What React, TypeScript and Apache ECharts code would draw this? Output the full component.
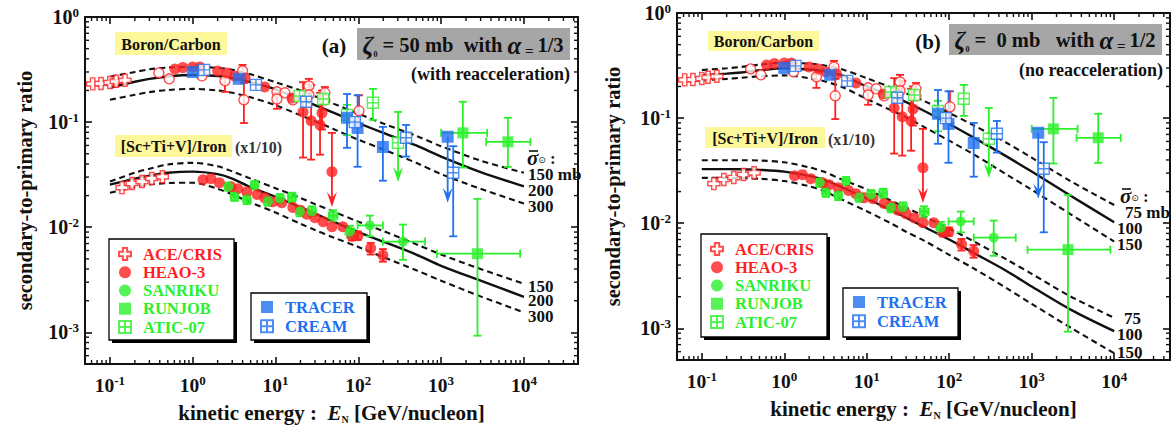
import React, { useEffect, useRef } from 'react';
import * as echarts from 'echarts';

const FONT = '"Liberation Serif", "Times New Roman", Times, serif';
const RED = '#ff1f1f';
const GREEN = '#2cf02c';
const BLUE = '#2070f0';
const INK = '#111111';

// axis ranges and tick decorations
const X_MIN = 0.05;
const X_MAX_A = 45000;
const X_MAX_B = 47500;
const Y_MIN = 5e-4;
const Y_MAX = 1;
const X_DECADES = [0.01, 0.1, 1, 10, 100, 1000, 10000];
const Y_DECADES = [0.0001, 0.001, 0.01, 0.1];
const MINOR_STEPS = [2, 3, 4, 5, 6, 7, 8, 9];

// model curves (kinetic energy grid, GeV/nucleon)
const E_GRID = [0.1, 0.2, 0.3, 0.5, 1, 2, 3, 5, 10, 20, 30, 50, 100, 200, 500, 1000, 3000, 10000];
// panel (a): zeta0 = 50 mb, alpha = 1/3
const A_BC_150 = [0.27, 0.3, 0.318, 0.33, 0.335, 0.328, 0.315, 0.285, 0.24, 0.2, 0.176, 0.15, 0.12, 0.097, 0.074, 0.059, 0.043, 0.033];
const A_BC_200 = [0.212, 0.242, 0.258, 0.272, 0.281, 0.275, 0.262, 0.24, 0.205, 0.165, 0.145, 0.123, 0.098, 0.079, 0.06, 0.047, 0.0335, 0.0245];
const A_BC_300 = [0.163, 0.182, 0.193, 0.202, 0.207, 0.2, 0.19, 0.172, 0.145, 0.116, 0.102, 0.086, 0.068, 0.055, 0.041, 0.032, 0.0232, 0.0168];
const A_FE_150 = [0.0272, 0.033, 0.036, 0.0395, 0.041, 0.038, 0.034, 0.029, 0.0235, 0.019, 0.0166, 0.0141, 0.0113, 0.0092, 0.0069, 0.0055, 0.004, 0.0029];
const A_FE_200 = [0.0254, 0.029, 0.031, 0.033, 0.0338, 0.032, 0.029, 0.024, 0.0195, 0.0155, 0.0135, 0.0113, 0.009, 0.0073, 0.0055, 0.0043, 0.0031, 0.00218];
const A_FE_300 = [0.0213, 0.024, 0.0255, 0.0263, 0.0265, 0.0232, 0.0205, 0.0172, 0.0138, 0.0108, 0.0094, 0.008, 0.0065, 0.0052, 0.0039, 0.0031, 0.0022, 0.00155];
// panel (b): zeta0 = 0 mb, alpha = 1/2
const B_BC_75 = [0.287, 0.298, 0.307, 0.322, 0.337, 0.33, 0.318, 0.292, 0.24, 0.195, 0.172, 0.145, 0.112, 0.085, 0.058, 0.042, 0.025, 0.0149];
const B_BC_100 = [0.256, 0.265, 0.272, 0.285, 0.298, 0.29, 0.28, 0.255, 0.2, 0.163, 0.142, 0.117, 0.088, 0.065, 0.043, 0.031, 0.0182, 0.0102];
const B_BC_150 = [0.23, 0.236, 0.242, 0.25, 0.255, 0.24, 0.225, 0.198, 0.152, 0.118, 0.102, 0.082, 0.061, 0.045, 0.029, 0.0208, 0.0121, 0.0067];
const B_FE_75 = [0.0398, 0.0398, 0.0398, 0.0395, 0.038, 0.034, 0.031, 0.026, 0.021, 0.0163, 0.0141, 0.0116, 0.0089, 0.0067, 0.0045, 0.0033, 0.002, 0.00126];
const B_FE_100 = [0.0327, 0.0327, 0.0326, 0.0322, 0.031, 0.0282, 0.026, 0.022, 0.0172, 0.0132, 0.0113, 0.0092, 0.007, 0.0052, 0.0035, 0.0025, 0.0015, 0.00094];
const B_FE_150 = [0.027, 0.027, 0.0269, 0.0265, 0.0252, 0.0225, 0.0203, 0.0168, 0.013, 0.0099, 0.0083, 0.0068, 0.005, 0.0037, 0.0024, 0.00171, 0.00101, 0.00058];

// measurements: [E, ratio, yLow, yHigh, xLow, xHigh] (missing = no bar)
const ACE_BC = [[0.062, 0.231], [0.078, 0.233], [0.1, 0.238], [0.119, 0.245], [0.152, 0.25]];
const ACE_FE = [[0.14, 0.0238], [0.185, 0.0261], [0.244, 0.0272], [0.32, 0.0291], [0.43, 0.0302]];
const HEAO_BC = [
  [0.61, 0.32], [0.76, 0.33], [1.0, 0.335], [1.22, 0.335], [2.0, 0.307], [2.6, 0.294], [3.2, 0.275], [4.3, 0.263],
  [7.4, 0.216], [15.8, 0.17], [21.5, 0.125, 0.046, 0.24], [26.9, 0.103, 0.044, 0.226], [34.5, 0.094, 0.049, 0.19],
  [36.4, 0.122, 0.085, 0.2], [48, 0.0337],
];
const HEAO_FE = [
  [1.33, 0.0283], [1.66, 0.029], [2.1, 0.0265], [2.9, 0.0243], [3.5, 0.0232], [4.5, 0.0218], [6.0, 0.0205], [7.4, 0.0191],
  [9.3, 0.0175], [11.9, 0.0171], [16.2, 0.0154], [20, 0.0145], [24, 0.0133], [30, 0.0123], [37.6, 0.0113], [48, 0.0101],
  [65, 0.0101], [84, 0.0082, 0.0075, 0.009], [99, 0.0083, 0.0076, 0.0091], [141, 0.0063, 0.0055, 0.0071], [198, 0.0054, 0.0047, 0.0062],
];
const OTHER_BC = [
  [0.39, 0.294], [0.52, 0.258], [1.29, 0.275], [2.45, 0.247, 0.194, 0.26], [4.0, 0.307, 0.26, 0.35], [4.15, 0.163, 0.098, 0.236],
  [10.4, 0.194], [13, 0.19], [10.4, 0.166, 0.134, 0.19], [16.2, 0.163], [25.3, 0.221, 0.19, 0.258], [25.3, 0.182],
  [39.5, 0.19, 0.165, 0.216], [39.5, 0.163], [102, 0.128, 0.09, 0.18],
];
const SANRIKU_FE = [
  [2.7, 0.0244, 0.0222, 0.0266, 2.45, 2.95], [3.2, 0.0196, 0.0178, 0.0215, 2.9, 3.5], [4.5, 0.0184, 0.0166, 0.0203, 4.1, 4.95],
  [5.6, 0.0252, 0.023, 0.0275, 5.1, 6.1], [8.1, 0.0176, 0.016, 0.0193, 7.3, 9.0], [11.3, 0.0188, 0.017, 0.0207, 10.2, 12.5],
  [15.8, 0.0193, 0.0174, 0.0213, 14.2, 17.5], [19.7, 0.0141, 0.0127, 0.0156, 17.7, 21.9], [27.5, 0.0142, 0.0127, 0.0158, 24.7, 30.5],
  [49.5, 0.0129, 0.0114, 0.0145, 44, 56], [79, 0.0091, 0.008, 0.0103, 70, 89], [138, 0.0104, 0.0082, 0.0129, 98, 198],
  [346, 0.0073, 0.0049, 0.0106, 198, 640],
];
const RUNJOB_BC = [[1830, 0.079, 0.037, 0.156, 1000, 3600], [6400, 0.065, 0.0375, 0.11, 3500, 12000]];
const RUNJOB_FE = [[2750, 0.0056, 0.00093, 0.0186, 890, 9000]];
const ATIC_BC = [[19.5, 0.177], [37.6, 0.166, 0.15, 0.185], [73, 0.117, 0.075, 0.146], [150, 0.153, 0.105, 0.207], [302, 0.0636]];
const TRACER_BC = [[1.0, 0.3], [3.6, 0.258], [73, 0.11, 0.057, 0.185], [98, 0.088, 0.0376, 0.18], [198, 0.058, 0.0277, 0.09], [1200, 0.0726]];
const CREAM_BC = [[1.37, 0.314], [5.8, 0.226], [23.5, 0.156], [91, 0.1], [378, 0.071, 0.047, 0.094], [1400, 0.033, 0.0082, 0.059]];
// upper limits: [E, ratio, barTop, arrowTip]
const HEAO_LIMIT = [[48, 0.0337, 0.079, 0.0156]];
const ATIC_LIMIT = [[302, 0.0636, 0.125, 0.027]];
const TRACER_LIMIT = [[1200, 0.0726, 0.0726, 0.0171]];

const CROSS = 'path://M3.2,0H6.8V3.2H10V6.8H6.8V10H3.2V6.8H0V3.2H3.2Z';
const BOXCROSS = 'path://M0,0H10V10H0Z M5,0V10 M0,5H10';
const SQUARE = 'path://M0,0H10V10H0Z';

const POW_RICH_Y = {
  b: { fontFamily: FONT, fontWeight: 'bold', fontSize: 20, lineHeight: 22, color: INK },
  s: { fontFamily: FONT, fontWeight: 'bold', fontSize: 13, lineHeight: 12, verticalAlign: 'top', color: INK },
};
const POW_RICH_X = {
  b: { fontFamily: FONT, fontWeight: 'bold', fontSize: 19.5, lineHeight: 22, color: INK },
  s: { fontFamily: FONT, fontWeight: 'bold', fontSize: 13, lineHeight: 12, verticalAlign: 'top', color: INK },
};
const powFmt = (v: number) => {
  const l = Math.log10(v);
  const n = Math.round(l);
  if (Math.abs(l - n) > 1e-6) return '';
  return `{b|10}{s|${n}}`;
};

const full = (d: number[]) => [d[0], d[1], d[2] ?? d[1], d[3] ?? d[1], d[4] ?? d[0], d[5] ?? d[0]];

function errRender(color: string) {
  return (params: any, api: any) => {
    const x = api.value(0), y = api.value(1), lo = api.value(2), hi = api.value(3), xlo = api.value(4), xhi = api.value(5);
    const st = { stroke: color, lineWidth: 1.8 };
    const cap = 4;
    const ch: any[] = [];
    if (hi > lo) {
      const a = api.coord([x, hi]);
      const b = api.coord([x, lo]);
      ch.push({ type: 'line', shape: { x1: a[0], y1: a[1], x2: b[0], y2: b[1] }, style: st });
      ch.push({ type: 'line', shape: { x1: a[0] - cap, y1: a[1], x2: a[0] + cap, y2: a[1] }, style: st });
      ch.push({ type: 'line', shape: { x1: b[0] - cap, y1: b[1], x2: b[0] + cap, y2: b[1] }, style: st });
    }
    if (xhi > xlo) {
      const a = api.coord([xlo, y]);
      const b = api.coord([xhi, y]);
      ch.push({ type: 'line', shape: { x1: a[0], y1: a[1], x2: b[0], y2: b[1] }, style: st });
      ch.push({ type: 'line', shape: { x1: a[0], y1: a[1] - cap, x2: a[0], y2: a[1] + cap }, style: st });
      ch.push({ type: 'line', shape: { x1: b[0], y1: b[1] - cap, x2: b[0], y2: b[1] + cap }, style: st });
    }
    return { type: 'group', children: ch };
  };
}

function arrowRender(color: string) {
  return (params: any, api: any) => {
    const x = api.value(0), v = api.value(1), top = api.value(2), tip = api.value(3);
    const st = { stroke: color, lineWidth: 1.8 };
    const a = api.coord([x, top]);
    const b = api.coord([x, tip]);
    const ch: any[] = [
      { type: 'line', shape: { x1: a[0], y1: a[1], x2: b[0], y2: b[1] - 6 }, style: st },
      { type: 'polygon', shape: { points: [[b[0], b[1]], [b[0] - 5, b[1] - 15], [b[0], b[1] - 9], [b[0] + 5, b[1] - 15]] }, style: { fill: color } },
    ];
    if (top > v) ch.push({ type: 'line', shape: { x1: a[0] - 4, y1: a[1], x2: a[0] + 4, y2: a[1] }, style: st });
    return { type: 'group', children: ch };
  };
}

function minorXRender(params: any, api: any) {
  const x = api.coord([api.value(0), api.value(1)])[0];
  const cs = params.coordSys;
  const st = { stroke: INK, lineWidth: 1.4 };
  return {
    type: 'group',
    children: [
      { type: 'line', shape: { x1: x, y1: cs.y + cs.height, x2: x, y2: cs.y + cs.height - 4 }, style: st },
      { type: 'line', shape: { x1: x, y1: cs.y, x2: x, y2: cs.y + 4 }, style: st },
    ],
  };
}
function minorYRender(params: any, api: any) {
  const y = api.coord([api.value(0), api.value(1)])[1];
  const cs = params.coordSys;
  const st = { stroke: INK, lineWidth: 1.4 };
  return {
    type: 'group',
    children: [
      { type: 'line', shape: { x1: cs.x, y1: y, x2: cs.x + 4, y2: y }, style: st },
      { type: 'line', shape: { x1: cs.x + cs.width, y1: y, x2: cs.x + cs.width - 4, y2: y }, style: st },
    ],
  };
}

function panelSeries(p: number, curves: number[][], xMax: number) {
  const ax = { xAxisIndex: 2 * p, yAxisIndex: 2 * p };
  const out: any[] = [];
  curves.forEach((arr, i) => {
    const dashed = i % 3 !== 1;
    out.push({
      type: 'line', ...ax, silent: true, showSymbol: false, smooth: 0.3, z: 1,
      data: E_GRID.map((e, k) => [e, arr[k]]),
      lineStyle: { color: INK, width: dashed ? 2.1 : 2.4, type: dashed ? [6, 4] : 'solid' },
    });
  });
  const xm: number[][] = [];
  X_DECADES.forEach((d) => MINOR_STEPS.forEach((s) => { const v = d * s; if (v > X_MIN && v < xMax) xm.push([v, 0.01]); }));
  const ym: number[][] = [];
  Y_DECADES.forEach((d) => MINOR_STEPS.forEach((s) => { const v = d * s; if (v > Y_MIN && v < Y_MAX) ym.push([1, v]); }));
  out.push({ type: 'custom', ...ax, silent: true, clip: false, z: 1, renderItem: minorXRender, data: xm, encode: { x: 0, y: 1 } });
  out.push({ type: 'custom', ...ax, silent: true, clip: false, z: 1, renderItem: minorYRender, data: ym, encode: { x: 0, y: 1 } });

  const errs: [string, number[][]][] = [
    [RED, [...HEAO_BC, ...HEAO_FE, ...OTHER_BC]],
    [GREEN, [...SANRIKU_FE, ...RUNJOB_BC, ...RUNJOB_FE, ...ATIC_BC]],
    [BLUE, [...TRACER_BC, ...CREAM_BC]],
  ];
  errs.forEach(([c, d]) => {
    out.push({ type: 'custom', ...ax, silent: true, z: 2, renderItem: errRender(c), data: d.map(full), encode: { x: 0, y: 1 } });
  });
  const lims: [string, number[][]][] = [[RED, HEAO_LIMIT], [GREEN, ATIC_LIMIT], [BLUE, TRACER_LIMIT]];
  lims.forEach(([c, d]) => {
    out.push({ type: 'custom', ...ax, silent: true, z: 2, renderItem: arrowRender(c), data: d, encode: { x: 0, y: 1 } });
  });

  const pts = (arrs: number[][][]) => arrs.flat().map((d) => [d[0], d[1]]);
  const sc = (name: string, data: number[][], symbol: string, size: number, color: string, open: boolean) => ({
    type: 'scatter', name, ...ax, data, symbol, symbolSize: size, z: 4, silent: true,
    itemStyle: open ? { color: '#ffffff', borderColor: color, borderWidth: 1.4 } : { color },
  });
  out.push(sc('open', pts([OTHER_BC]), 'circle', 10, RED, true));
  out.push(sc('ACE/CRIS', pts([ACE_BC, ACE_FE]), CROSS, 12, RED, true));
  out.push(sc('HEAO-3', pts([HEAO_BC, HEAO_FE]), 'circle', 11, RED, false));
  out.push(sc('SANRIKU', pts([SANRIKU_FE]), 'circle', 10, GREEN, false));
  out.push(sc('RUNJOB', pts([RUNJOB_BC, RUNJOB_FE]), SQUARE, 11, GREEN, false));
  out.push(sc('ATIC-07', pts([ATIC_BC]), BOXCROSS, 11, GREEN, true));
  out.push(sc('TRACER', pts([TRACER_BC]), SQUARE, 12, BLUE, false));
  out.push(sc('CREAM', pts([CREAM_BC]), BOXCROSS, 11, BLUE, true));
  return out;
}

function axesFor(gi: number, xMax: number, yGap: number) {
  const line = { show: true, onZero: false, lineStyle: { color: INK, width: 2 } };
  const tick = { show: true, inside: true, length: 7, lineStyle: { color: INK, width: 1.6 } };
  const xs = [
    {
      type: 'log', gridIndex: gi, position: 'bottom', min: X_MIN, max: xMax, logBase: 10,
      axisLine: line, axisTick: tick, splitLine: { show: false },
      axisLabel: { margin: 10, formatter: powFmt, rich: POW_RICH_X },
      name: '{t|kinetic energy :  }{e|E}{n|N}{t| [GeV/nucleon]}', nameLocation: 'middle', nameGap: 37,
      nameTextStyle: {
        fontFamily: FONT, fontWeight: 'bold', fontSize: 21, color: INK,
        rich: {
          t: { fontFamily: FONT, fontWeight: 'bold', fontSize: 21, color: INK, lineHeight: 23 },
          e: { fontFamily: FONT, fontWeight: 'bold', fontStyle: 'italic', fontSize: 21, color: INK, lineHeight: 23 },
          n: { fontFamily: FONT, fontWeight: 'bold', fontSize: 10, color: INK, lineHeight: 10, verticalAlign: 'bottom' },
        },
      },
    },
    {
      type: 'log', gridIndex: gi, position: 'top', min: X_MIN, max: xMax, logBase: 10,
      axisLine: line, axisTick: tick, splitLine: { show: false }, axisLabel: { show: false },
    },
  ];
  const ys = [
    {
      type: 'log', gridIndex: gi, position: 'left', min: Y_MIN, max: Y_MAX, logBase: 10,
      axisLine: line, axisTick: tick, splitLine: { show: false },
      axisLabel: { margin: 6, formatter: powFmt, rich: POW_RICH_Y },
      name: 'secondary-to-primary ratio', nameLocation: 'middle', nameGap: yGap,
      nameTextStyle: { fontFamily: FONT, fontWeight: 'bold', fontSize: 20.5, color: INK },
    },
    {
      type: 'log', gridIndex: gi, position: 'right', min: Y_MIN, max: Y_MAX, logBase: 10,
      axisLine: line, axisTick: tick, splitLine: { show: false }, axisLabel: { show: false },
    },
  ];
  return { xs, ys };
}

const txtStyle = (size: number, align = 'left', extra: any = {}) => ({
  fill: INK, fontFamily: FONT, fontWeight: 'bold', fontSize: size,
  align, textAlign: align, verticalAlign: 'middle', textVerticalAlign: 'middle', ...extra,
});
const T = (x: number, y: number, text: string, size: number, align = 'left', extra: any = {}) => ({
  type: 'text', x, y, z: 16, style: { text, ...txtStyle(size, align, extra) },
});
const CL = (x: number, y: number, text: string) => T(x, y, text, 17, 'left', { lineHeight: 13 });
const R = (x: number, y: number, w: number, h: number, fill: string, stroke?: string, lw = 0) => ({
  type: 'rect', z: 15, shape: { x, y, width: w, height: h }, style: { fill, stroke: stroke || 'none', lineWidth: lw },
});
const legendBox = (x: number, y: number, w: number, h: number) => [
  R(x + 3, y + 3, w, h, '#000000'),
  R(x, y, w, h, '#ffffff', '#000000', 1.3),
];
const SIGMA_RICH = {
  s: { fill: INK, fontFamily: FONT, fontWeight: 'bold', fontStyle: 'italic', fontSize: 21, lineHeight: 13 },
  o: { fill: INK, fontFamily: '"DejaVu Sans", sans-serif', fontSize: 9, lineHeight: 9, verticalAlign: 'bottom' },
  t: { fill: INK, fontFamily: FONT, fontWeight: 'bold', fontSize: 17, lineHeight: 13 },
};
const ZETA_RICH = {
  z: { fill: INK, fontFamily: FONT, fontWeight: 'bold', fontStyle: 'italic', fontSize: 25, lineHeight: 26 },
  o: { fill: INK, fontFamily: FONT, fontWeight: 'bold', fontSize: 8, lineHeight: 8, verticalAlign: 'bottom' },
  t: { fill: INK, fontFamily: FONT, fontWeight: 'bold', fontSize: 20.5, lineHeight: 26 },
  e: { fill: INK, fontFamily: FONT, fontWeight: 'bold', fontSize: 15, lineHeight: 16, verticalAlign: 'bottom' },
};
const richText = (x: number, y: number, text: string, rich: any, align = 'left') => ({
  type: 'text', x, y, z: 16, style: { text, rich, ...txtStyle(17, align) },
});
const sigmaLabel = (x: number, y: number) => [
  richText(x, y, '{s|σ}{o|⊙}{t| :}', SIGMA_RICH),
  { type: 'line', z: 16, shape: { x1: x + 2, y1: y - 7, x2: x + 11, y2: y - 7 }, style: { stroke: INK, lineWidth: 1.6 } },
];

function buildOption() {
  const a = axesFor(0, X_MAX_A, 50);
  const b = axesFor(1, X_MAX_B, 54);
  const legendBase = {
    orient: 'vertical', itemWidth: 26, itemHeight: 12, padding: 0, selectedMode: false, z: 20,
    textStyle: { fontFamily: FONT, fontWeight: 'bold', fontSize: 16.5, lineHeight: 17 },
  };
  const item = (name: string, color: string) => ({ name, textStyle: { color } });
  const L1 = [item('ACE/CRIS', RED), item('HEAO-3', RED), item('SANRIKU', GREEN), item('RUNJOB', GREEN), item('ATIC-07', GREEN)];
  const L2 = [item('TRACER', BLUE), item('CREAM', BLUE)];
  return {
    animation: false,
    backgroundColor: '#ffffff',
    grid: [
      { left: 85, top: 17, width: 493, height: 347 },
      { left: 677, top: 13, width: 495, height: 347 },
    ],
    xAxis: [...a.xs, ...b.xs],
    yAxis: [...a.ys, ...b.ys],
    legend: [
      { ...legendBase, left: 118, top: 245.5, itemGap: 1.25, data: L1 },
      { ...legendBase, left: 260, top: 298.5, itemGap: 2.3, data: L2 },
      { ...legendBase, left: 710, top: 240.5, itemGap: 1.25, data: L1 },
      { ...legendBase, left: 852, top: 293.5, itemGap: 2.3, data: L2 },
    ],
    series: [
      ...panelSeries(0, [A_BC_150, A_BC_200, A_BC_300, A_FE_150, A_FE_200, A_FE_300], X_MAX_A),
      ...panelSeries(1, [B_BC_75, B_BC_100, B_BC_150, B_FE_75, B_FE_100, B_FE_150], X_MAX_B),
    ],
    graphic: [
      // panel (a)
      R(115, 32, 112, 23, '#fdf89a'),
      T(171, 44, 'Boron/Carbon', 16, 'center'),
      R(115, 135, 117, 22, '#fdf89a'),
      T(173.5, 146.5, '[Sc+Ti+V]/Iron', 16, 'center'),
      T(235, 147, '(x1/10)', 16, 'left', { fill: '#333333' }),
      T(334, 46, '(a)', 21, 'center'),
      R(357, 28, 213, 32, '#a6a6a6'),
      richText(463, 45, '{z|ζ}{o|0}{t| = 50 mb  with }{z|α}{e| = }{t|1/3}', ZETA_RICH, 'center'),
      T(570, 74, '(with reacceleration)', 18, 'right'),
      ...sigmaLabel(527, 158),
      CL(528, 174, '150 mb'),
      CL(528, 190, '200'),
      CL(528, 206, '300'),
      CL(528, 286, '150'),
      CL(528, 300, '200'),
      CL(528, 316, '300'),
      ...legendBox(109, 239, 125, 101),
      ...legendBox(251, 293, 116, 47),
      // panel (b)
      R(708, 31, 111, 20, '#fdf89a'),
      T(763.5, 41.5, 'Boron/Carbon', 16, 'center'),
      R(705, 127, 120, 21, '#fdf89a'),
      T(765, 138, '[Sc+Ti+V]/Iron', 16, 'center'),
      T(828, 139, '(x1/10)', 16, 'left', { fill: '#333333' }),
      T(928, 42, '(b)', 21, 'center'),
      R(949, 24, 213, 31, '#a6a6a6'),
      richText(1055, 40, '{z|ζ}{o|0}{t| =  0 mb   with }{z|α}{e| = }{t|1/2}', ZETA_RICH, 'center'),
      T(1163, 70, '(no reacceleration)', 18, 'right'),
      ...sigmaLabel(1120, 196),
      CL(1125, 212, '75 mb'),
      CL(1117, 228, '100'),
      CL(1117, 244, '150'),
      CL(1124, 318, '75'),
      CL(1117, 334, '100'),
      CL(1117, 352, '150'),
      ...legendBox(701, 234, 126, 103),
      ...legendBox(843, 288, 115, 49),
    ],
  };
}

export default function App() {
  const ref = useRef<HTMLDivElement>(null);
  useEffect(() => {
    document.body.style.margin = '0';
    const chart = echarts.init(ref.current as HTMLDivElement, null, { renderer: 'svg' });
    chart.setOption(buildOption() as any);
    return () => chart.dispose();
  }, []);
  return <div ref={ref} style={{ position: 'absolute', left: 0, top: 0, width: 1173, height: 435 }} />;
}
